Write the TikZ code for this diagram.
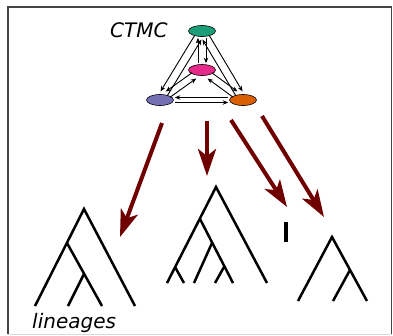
\documentclass[tikz,border=0pt]{standalone}
\usepackage{fontspec}
\setsansfont{DejaVu Sans}
\usepackage{xcolor}
\usetikzlibrary{arrows.meta,shapes.geometric,positioning,calc}
\definecolor{stgreen}{HTML}{1B9E77}
\definecolor{stpink}{HTML}{E7298A}
\definecolor{stpurple}{HTML}{7570B3}
\definecolor{storange}{HTML}{D95F02}
\definecolor{flowred}{RGB}{112,0,0}
\definecolor{framegray}{RGB}{68,68,68}

\begin{document}
\begin{tikzpicture}[x=1pt,y=-1pt,
	state/.style={ellipse,draw=black,line width=0.6pt,minimum width=27pt,minimum height=11pt,inner sep=0pt},
	rate/.style={-{Stealth[length=5.5pt,width=4.5pt]},line width=0.9pt,shorten <=1pt,shorten >=1pt},
	flow/.style={-{Stealth[length=27pt,width=18pt,inset=7pt]},line width=4pt,flowred},
	tree/.style={line width=2.5pt},
	lbl/.style={font=\sffamily\itshape\fontsize{20}{24}\selectfont,inner sep=0pt,anchor=base west}]
		\useasboundingbox (0,0) rectangle (393,335);
		\draw[line width=2pt,framegray] (7.5,334) -- (7.5,6.7) -- (392,6.7);
		\draw[line width=1.3pt,framegray] (391.8,6.7) -- (391.8,334);
		\draw[line width=1pt,black!15] (7.5,334) -- (392,334);
		\node[lbl] (ctmc) at (110,37.5) {CTMC};
		\node[state,fill=stgreen] (g) at (202,31) {};
		\node[state,fill=stpink] (pk) at (202,70) {};
		\node[state,fill=stpurple] (pu) at (160,100) {};
		\node[state,fill=storange] (or) at (243,100) {};
		\draw[rate,transform canvas={shift={(4,0)}}] (g) -- (pk);
		\draw[rate,transform canvas={shift={(-4,0)}}] (pk) -- (g);
		\draw[rate,transform canvas={shift={(-3.4,-2.1)}}] (g) -- (pu);
		\draw[rate,transform canvas={shift={(3.4,2.1)}}] (pu) -- (g);
		\draw[rate,transform canvas={shift={(3.4,-2.1)}}] (g) -- (or);
		\draw[rate,transform canvas={shift={(-3.4,2.1)}}] (or) -- (g);
		\draw[rate,transform canvas={shift={(0,-2.5)}}] (or) -- (pu);
		\draw[rate,transform canvas={shift={(0,2.5)}}] (pu) -- (or);
		\draw[rate,transform canvas={shift={(-2.1,-2.9)}}] (pk) -- (pu);
		\draw[rate,transform canvas={shift={(2.1,2.9)}}] (pu) -- (pk);
		\draw[rate,transform canvas={shift={(2.1,-2.9)}}] (pk) -- (or);
		\draw[rate,transform canvas={shift={(-2.1,2.9)}}] (or) -- (pk);
		\coordinate (f1s) at (162,123); \coordinate (f1e) at (120,237);
		\coordinate (f2s) at (207,121); \coordinate (f2e) at (207,176);
		\coordinate (f3s) at (231,120); \coordinate (f3e) at (287,207);
		\coordinate (f4s) at (262,116); \coordinate (f4e) at (324,217);
		\draw[flow] (f1s) -- (f1e);
		\draw[flow] (f2s) -- (f2e);
		\draw[flow] (f3s) -- (f3e);
		\draw[flow] (f4s) -- (f4e);
		\coordinate (t1r) at (84,209); \coordinate (t1a) at (67,243); \coordinate (t1b) at (84,274);
		\coordinate (t1l1) at (35,306); \coordinate (t1l2) at (68,306);
		\coordinate (t1l3) at (102,306); \coordinate (t1l4) at (135,306);
		\draw[tree] (t1l1) -- (t1r) -- (t1l4);
		\draw[tree] (t1a) -- (t1l3);
		\draw[tree] (t1b) -- (t1l2);
		\coordinate (t2r) at (216,187); \coordinate (t2a) at (200,219); \coordinate (t2b) at (212,243);
		\coordinate (t2c) at (175,267); \coordinate (t2d) at (224,267);
		\coordinate (t2l1) at (167,283); \coordinate (t2l2) at (184,283); \coordinate (t2l3) at (194,283);
		\coordinate (t2l4) at (215,283); \coordinate (t2l5) at (233,283); \coordinate (t2l6) at (267,283);
		\draw[tree] (t2l1) -- (t2r) -- (t2l6);
		\draw[tree] (t2a) -- (t2l5);
		\draw[tree] (t2b) -- (t2l3);
		\draw[tree] (t2c) -- (t2l2);
		\draw[tree] (t2d) -- (t2l4);
		\coordinate (t3r) at (286,222); \coordinate (t3l) at (286,242);
		\draw[line width=4pt] (t3r) -- (t3l);
		\coordinate (t4r) at (332,237); \coordinate (t4a) at (350,270);
		\coordinate (t4l1) at (298,301); \coordinate (t4l2) at (333,301); \coordinate (t4l3) at (367,301);
		\draw[tree] (t4l1) -- (t4r) -- (t4l3);
		\draw[tree] (t4a) -- (t4l2);
		\node[lbl] (lin) at (32,328) {lineages};
	\end{tikzpicture}
\end{document}
